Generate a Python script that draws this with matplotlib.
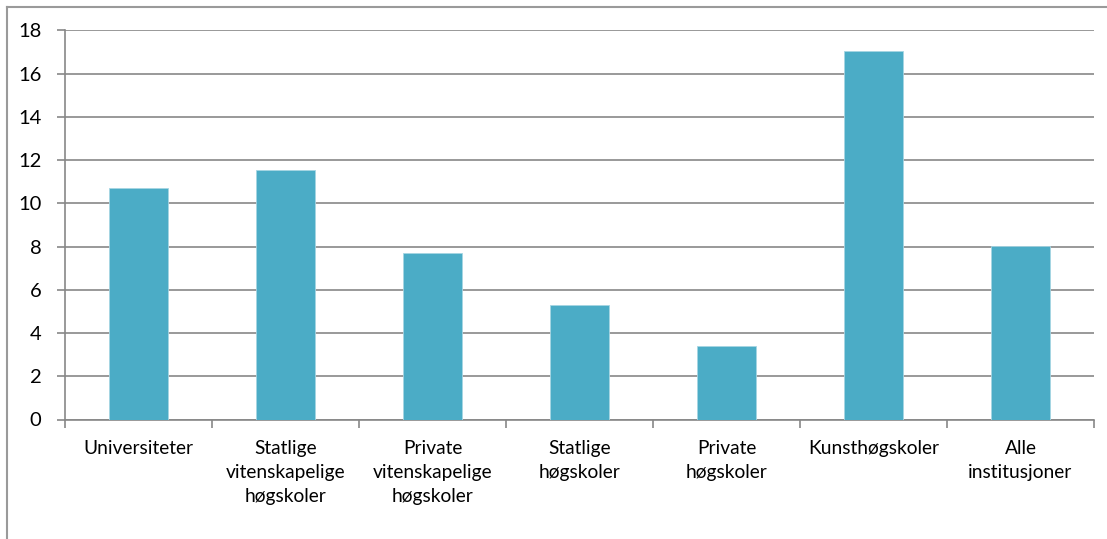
import matplotlib
matplotlib.use("Agg")
import matplotlib.pyplot as plt
from matplotlib.lines import Line2D
import numpy as np

categories = ["Universiteter", "Statlige\nvitenskapelige\nhøgskoler",
              "Private\nvitenskapelige\nhøgskoler", "Statlige\nhøgskoler",
              "Private\nhøgskoler", "Kunsthøgskoler", "Alle\ninstitusjoner"]
values = [10.7, 11.55, 7.72, 5.3, 3.39, 17.05, 8.03]
yticks = [0, 2, 4, 6, 8, 10, 12, 14, 16, 18]

plt.rcParams['font.family'] = ['Lato', 'DejaVu Sans']

W, H = 1107, 539
fig = plt.figure(figsize=(W/100, H/100), dpi=100)
ax = fig.add_axes([65/W, 1 - 419.5/H, (1094-65)/W, (419.5-30.5)/H])

grid_c = '#878787'
x = np.arange(len(categories))
ax.bar(x, values, width=0.40, color='#4BACC6', edgecolor='#a6d5e3', linewidth=0.6, zorder=3)

ax.set_xlim(-0.5, len(categories) - 0.5)
ax.set_ylim(0, 18)
ax.set_yticks(yticks)
ax.set_yticklabels([str(v) for v in yticks])
ax.yaxis.grid(True, color=grid_c, linewidth=1.2, zorder=0)

ax.set_xticks(np.arange(-0.5, len(categories), 1.0))
ax.set_xticklabels([])
ax.set_xticks(x, minor=True)
ax.set_xticklabels(categories, minor=True, fontsize=13.8, linespacing=1.48)
ax.tick_params(axis='x', which='major', length=6, width=1.2, color=grid_c, direction='out')
ax.tick_params(axis='x', which='minor', length=0, pad=15)
ax.tick_params(axis='y', length=6, width=1.2, color=grid_c, direction='out', labelsize=14.5, pad=11)

for s in ['top', 'right']:
    ax.spines[s].set_visible(False)
for s in ['left', 'bottom']:
    ax.spines[s].set_color(grid_c)
    ax.spines[s].set_linewidth(1.2)

# outer chart border (left and top visible)
fig.add_artist(Line2D([7/W, 7/W], [0, 1 - 7/H], color='#9a9a9a', linewidth=1.5, transform=fig.transFigure))
fig.add_artist(Line2D([7/W, 1], [1 - 7/H, 1 - 7/H], color='#9a9a9a', linewidth=1.5, transform=fig.transFigure))

fig.savefig("out.png", dpi=100)
